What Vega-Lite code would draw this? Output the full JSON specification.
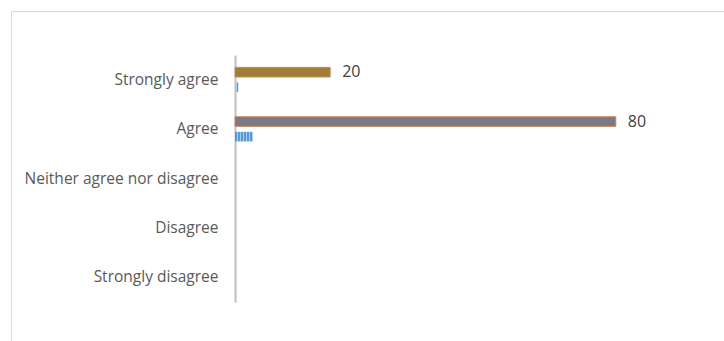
{
  "$schema": "https://vega.github.io/schema/vega-lite/v6.json",
  "autosize": "none",
  "padding": {"left": 11, "top": 11, "right": 0, "bottom": 0},
  "width": 715,
  "height": 332,
  "background": "white",
  "config": {
    "view": {"stroke": "#D9D9D9", "strokeWidth": 1},
    "font": "Open Sans"
  },
  "data": {
    "values": [
      {"category": "Strongly agree", "series": "main", "value": 20},
      {"category": "Agree", "series": "main", "value": 80},
      {"category": "Neither agree nor disagree", "series": "main", "value": 0},
      {"category": "Disagree", "series": "main", "value": 0},
      {"category": "Strongly disagree", "series": "main", "value": 0},
      {"category": "Strongly agree", "series": "blue", "value": 0.7},
      {"category": "Agree", "series": "blue", "value": 3.8},
      {"category": "Neither agree nor disagree", "series": "blue", "value": 0},
      {"category": "Disagree", "series": "blue", "value": 0},
      {"category": "Strongly disagree", "series": "blue", "value": 0}
    ]
  },
  "encoding": {
    "y": {
      "field": "category",
      "type": "nominal",
      "sort": ["Strongly agree", "Agree", "Neither agree nor disagree", "Disagree", "Strongly disagree"],
      "scale": {"domain": ["Strongly agree", "Agree", "Neither agree nor disagree", "Disagree", "Strongly disagree"], "range": [44, 291], "paddingInner": 0.5, "paddingOuter": 0.25},
      "axis": {
        "title": null,
        "offset": -224,
        "labelFont": "Open Sans",
        "labelFontSize": 15.5,
        "labelColor": "#595959",
        "labelPadding": 17,
        "labelLimit": 400,
        "ticks": false,
        "grid": false,
        "domainColor": "#BFBFBF",
        "domainWidth": 2
      }
    },
    "yOffset": {
      "field": "series",
      "type": "nominal",
      "scale": {"domain": ["main", "blue"], "paddingInner": 0.36, "paddingOuter": 0}
    },
    "x": {
      "field": "value",
      "type": "quantitative",
      "scale": {"domain": [0, 100], "range": [224, 700], "nice": false},
      "axis": null
    }
  },
  "layer": [
    {
      "transform": [{"filter": "datum.series === 'main' && datum.value > 0"}],
      "mark": {"type": "bar", "stroke": "#C8895C", "strokeWidth": 1},
      "encoding": {
        "color": {
          "field": "category",
          "type": "nominal",
          "scale": {
            "domain": ["Strongly agree", "Agree", "Neither agree nor disagree", "Disagree", "Strongly disagree"],
            "range": ["#A07E38", "#7B7983", "#7B7983", "#7B7983", "#7B7983"]
          },
          "legend": null
        }
      }
    },
    {
      "transform": [{"filter": "datum.series === 'blue' && datum.value > 0"}],
      "mark": {
        "type": "bar",
        "fill": {
          "gradient": "linear",
          "x1": 0, "x2": 1, "y1": 0, "y2": 0,
          "stops": [
            {"offset": 0, "color": "#5B9BD5"},
            {"offset": 0.11, "color": "#5B9BD5"},
            {"offset": 0.111, "color": "#A9CCEC"},
            {"offset": 0.166, "color": "#A9CCEC"},
            {"offset": 0.167, "color": "#5B9BD5"},
            {"offset": 0.277, "color": "#5B9BD5"},
            {"offset": 0.278, "color": "#A9CCEC"},
            {"offset": 0.333, "color": "#A9CCEC"},
            {"offset": 0.334, "color": "#5B9BD5"},
            {"offset": 0.444, "color": "#5B9BD5"},
            {"offset": 0.445, "color": "#A9CCEC"},
            {"offset": 0.5, "color": "#A9CCEC"},
            {"offset": 0.501, "color": "#5B9BD5"},
            {"offset": 0.611, "color": "#5B9BD5"},
            {"offset": 0.612, "color": "#A9CCEC"},
            {"offset": 0.666, "color": "#A9CCEC"},
            {"offset": 0.667, "color": "#5B9BD5"},
            {"offset": 0.777, "color": "#5B9BD5"},
            {"offset": 0.778, "color": "#A9CCEC"},
            {"offset": 0.833, "color": "#A9CCEC"},
            {"offset": 0.834, "color": "#5B9BD5"},
            {"offset": 0.944, "color": "#5B9BD5"},
            {"offset": 0.945, "color": "#A9CCEC"},
            {"offset": 1, "color": "#A9CCEC"}
          ]
        }
      }
    },
    {
      "transform": [{"filter": "datum.series === 'main' && datum.value > 0"}],
      "mark": {"type": "text", "align": "left", "baseline": "middle", "dx": 12, "font": "Open Sans", "fontSize": 16, "color": "#404040"},
      "encoding": {"text": {"field": "value", "type": "quantitative"}}
    }
  ]
}
